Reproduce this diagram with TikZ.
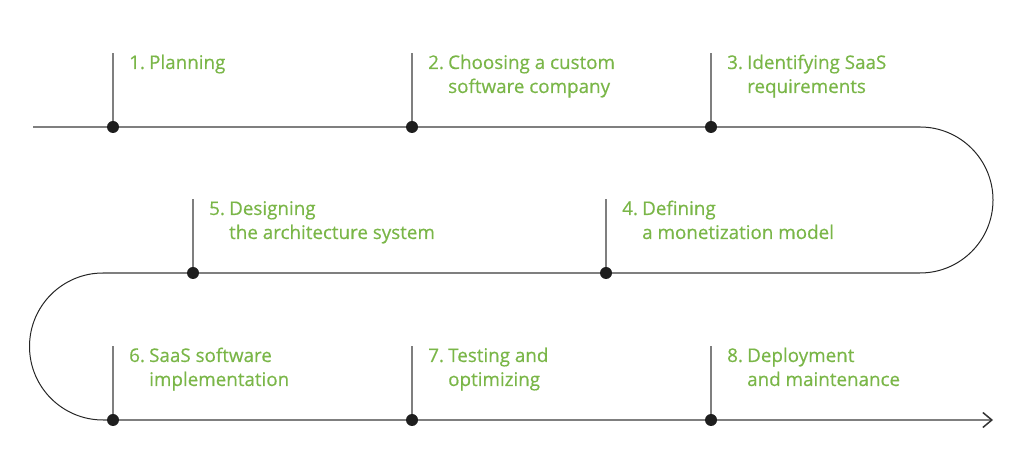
\documentclass[tikz,border=0pt]{standalone}
\usepackage{fontspec}
\setmainfont{Open Sans}
\newfontfamily\stepfont{Open Sans}[FakeBold=0.5]
\usetikzlibrary{arrows.meta,positioning}
\definecolor{stepgreen}{HTML}{7AB648}
\definecolor{linegray}{HTML}{7F7F7F}
\definecolor{dotblack}{HTML}{1E1E1E}
\newcommand{\stepno}[1]{\makebox[20pt][l]{#1}}

\tikzset{
  dot/.style={circle,fill=dotblack,inner sep=0pt,minimum size=12pt},
  steptext/.style={anchor=base west,text=stepgreen,inner sep=0pt,
    font=\stepfont\fontsize{18.8}{24}\selectfont,align=left,xshift=16pt,yshift=58pt},
  twoline/.style={steptext,yshift=-24pt},
  track/.style={linegray,line width=1.5pt},
  curveline/.style={black!85,line width=1pt}
}

\begin{document}
\begin{tikzpicture}[x=1pt,y=1pt]
\useasboundingbox (0,0) rectangle (1024,470);

% Dots on the track
\node[dot] (d1) at (113,343) {};
\node[dot] (d2) at (412,343) {};
\node[dot] (d3) at (711,343) {};
\node[dot] (d4) at (606,197) {};
\node[dot] (d5) at (193,197) {};
\node[dot] (d6) at (113,50) {};
\node[dot] (d7) at (412,50) {};
\node[dot] (d8) at (711,50) {};

% Turning points
\coordinate (start) at (33,343);
\coordinate (r1) at (920,343);
\coordinate (r2) at (920,197);
\coordinate (l1) at (103,197);
\coordinate (l2) at (103,50);
\coordinate (stop) at (993,50);

% Draw track
\draw[track] (start) -- (d1) -- (d2) -- (d3) -- (r1);
\draw[curveline] (r1) arc[start angle=90,end angle=-90,radius=73];
\draw[track] (r2) -- (d4) -- (d5) -- (l1);
\draw[curveline] (l1) arc[start angle=90,end angle=270,radius=73.5];
\draw[track] (l2) -- (d6) -- (d7) -- (d8);
\draw[track,-{Straight Barb[length=9pt,width=15pt,color=black!80]}] (d8) -- (stop);

% Ticks
\foreach \d in {d1,d2,d3,d4,d5,d6,d7,d8}
    \draw[track] (\d) -- ++(0,74) coordinate (\d top);

% Labels
\node[steptext] (s1) at (d1) {\stepno{1.}Planning};
\node[twoline] (s2) at (d2) {\stepno{2.}Choosing a custom\\\hspace*{20pt}software company};
\node[twoline] (s3) at (d3) {\stepno{3.}Identifying SaaS\\\hspace*{20pt}requirements};
\node[twoline] (s4) at (d4) {\stepno{4.}Defining\\\hspace*{20pt}a monetization model};
\node[twoline] (s5) at (d5) {\stepno{5.}Designing\\\hspace*{20pt}the architecture system};
\node[twoline] (s6) at (d6) {\stepno{6.}SaaS software\\\hspace*{20pt}implementation};
\node[twoline] (s7) at (d7) {\stepno{7.}Testing and\\\hspace*{20pt}optimizing};
\node[twoline] (s8) at (d8) {\stepno{8.}Deployment\\\hspace*{20pt}and maintenance};
\end{tikzpicture}
\end{document}
